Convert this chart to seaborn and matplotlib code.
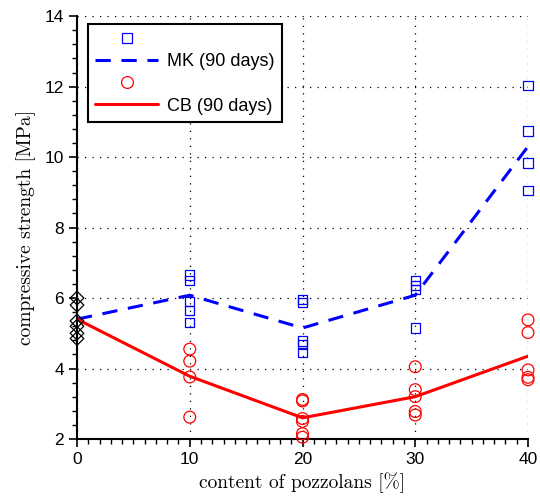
import numpy as np
import pandas as pd
import matplotlib
matplotlib.use("Agg")
import matplotlib.pyplot as plt
from matplotlib.lines import Line2D
from matplotlib.ticker import MultipleLocator
import seaborn as sns

# ---- data ----
content = [0, 10, 20, 30, 40]
mk_mean = [5.4, 6.08, 5.15, 6.08, 10.3]
cb_mean = [5.4, 3.78, 2.6, 3.2, 4.35]

ref_x = [0, 0, 0, 0, 0, 0]
ref_vals = [6.0, 5.8, 5.35, 5.2, 5.0, 4.85]

mk_x = [10, 10, 10, 10, 10, 20, 20, 20, 20, 20, 30, 30, 30, 30, 40, 40, 40, 40]
mk_vals = [6.65, 6.5, 5.9, 5.65, 5.3,
           5.95, 5.88, 4.78, 4.68, 4.45,
           6.5, 6.35, 6.25, 5.15,
           12.04, 10.74, 9.83, 9.06]

cb_x = [10, 10, 10, 10, 20, 20, 20, 20, 20, 20, 30, 30, 30, 30, 30, 40, 40, 40, 40, 40]
cb_vals = [4.55, 4.21, 3.76, 2.62,
           3.12, 3.08, 2.58, 2.5, 2.15, 2.05,
           4.05, 3.4, 3.2, 2.78, 2.68,
           5.38, 5.02, 3.96, 3.75, 3.68]

xlabel = "content of pozzolans [%]"
ylabel = "compressive strength [MPa]"
mk_label = "MK (90 days)"
cb_label = "CB (90 days)"

sns.set_style("white")
plt.rcParams['font.family'] = ['Liberation Sans', 'DejaVu Sans']
plt.rcParams['text.color'] = 'black'
plt.rcParams['axes.labelcolor'] = 'black'
plt.rcParams['xtick.color'] = 'black'
plt.rcParams['ytick.color'] = 'black'

fig = plt.figure(figsize=(5.4, 5.04), dpi=100)
ax = fig.add_axes([0.1426, 0.129, 0.8352, 0.839])

BLUE = (0, 0, 1)
RED = (1, 0, 0)

df_mean = pd.DataFrame({"x": content, "mk": mk_mean, "cb": cb_mean})
df_mk = pd.DataFrame({"x": mk_x, "y": mk_vals})
df_cb = pd.DataFrame({"x": cb_x, "y": cb_vals})
df_ref = pd.DataFrame({"x": ref_x, "y": ref_vals})

sns.scatterplot(data=df_mk, x="x", y="y", ax=ax, marker="s", s=45,
                facecolor="none", edgecolor=BLUE, linewidth=0.9, clip_on=False, zorder=3)
sns.scatterplot(data=df_cb, x="x", y="y", ax=ax, marker="o", s=72,
                facecolor="none", edgecolor=RED, linewidth=0.9, clip_on=False, zorder=3)
sns.scatterplot(data=df_ref, x="x", y="y", ax=ax, marker="D", s=48,
                facecolor="none", edgecolor="black", linewidth=0.9, clip_on=False, zorder=4)

sns.lineplot(data=df_mean, x="x", y="mk", ax=ax, color=BLUE, linewidth=2.2,
             dashes=False, zorder=2)
ax.lines[-1].set_linestyle((0, (5, 3.5)))
sns.lineplot(data=df_mean, x="x", y="cb", ax=ax, color=RED, linewidth=2.2, zorder=2)

ax.set_xlim(0, 40)
ax.set_ylim(2, 14)
ax.xaxis.set_major_locator(MultipleLocator(10))
ax.xaxis.set_minor_locator(MultipleLocator(1))
ax.yaxis.set_major_locator(MultipleLocator(2))
ax.yaxis.set_minor_locator(MultipleLocator(0.4))

ax.grid(True, which="major", linestyle=(0, (1, 5)), color="black", linewidth=0.9)
for side in ["top", "right"]:
    ax.spines[side].set_visible(False)
for side in ["left", "bottom"]:
    ax.spines[side].set_color("black")
    ax.spines[side].set_linewidth(1.5)

ax.tick_params(which="major", direction="out", length=6, width=1.2, labelsize=12.5,
               bottom=True, left=True, colors="black")
ax.tick_params(which="minor", direction="out", length=3.5, width=1.0,
               bottom=True, left=True, colors="black")

ax.set_xlabel(xlabel, family="cmr10", fontsize=14, labelpad=4)
ax.set_ylabel(ylabel, family="cmr10", fontsize=14, labelpad=6)

handles = [
    Line2D([], [], linestyle="none", marker="s", markersize=6.5, markerfacecolor="none",
           markeredgecolor=BLUE, markeredgewidth=0.9),
    Line2D([], [], color=BLUE, linewidth=2.2, linestyle=(0, (5, 3.5))),
    Line2D([], [], linestyle="none", marker="o", markersize=8.5, markerfacecolor="none",
           markeredgecolor=RED, markeredgewidth=0.9),
    Line2D([], [], color=RED, linewidth=2.2),
]
labels = ["", mk_label, "", cb_label]
leg = ax.legend(handles, labels, loc="upper left", bbox_to_anchor=(0.024, 0.981),
                borderaxespad=0, fontsize=13, frameon=True, fancybox=False,
                edgecolor="black", framealpha=1, handlelength=3.5,
                labelspacing=0.28, borderpad=0.4, handletextpad=0.5)
leg.get_frame().set_linewidth(1.5)

fig.savefig("out.png", dpi=100)
